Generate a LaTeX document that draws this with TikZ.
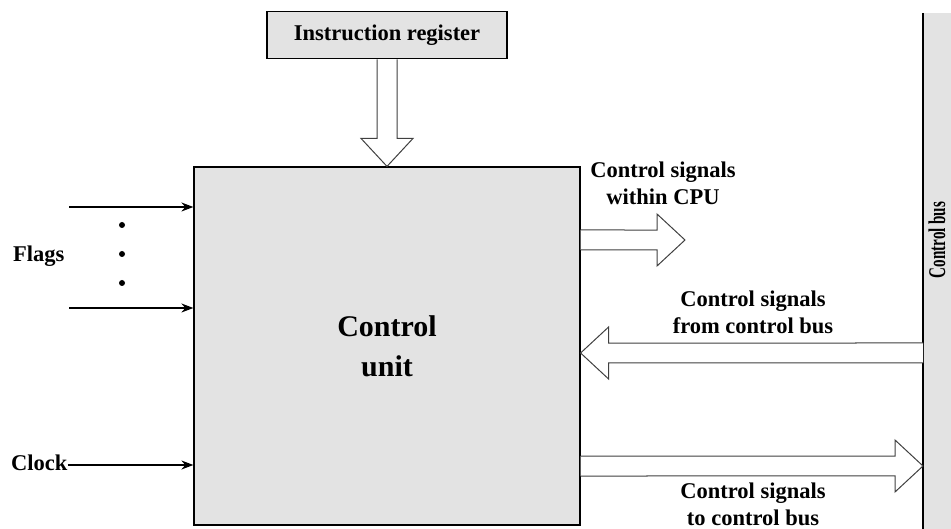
\documentclass[tikz,border=0pt]{standalone}
\usepackage{fontspec}
\setmainfont{Liberation Serif}
\usetikzlibrary{positioning,calc,arrows.meta}

\begin{document}
\begin{tikzpicture}[x=1pt, y=-1pt, font=\bfseries,
	box/.style={draw, line width=1.2pt, fill=black!11},
	lbl/.style={font=\bfseries\fontsize{22.5}{27}\selectfont, align=center, inner sep=0pt},
	flag/.style={line width=1.6pt, -{Stealth[length=12pt, width=9pt]}},
	hollow/.style={draw=black!75, line width=1pt, fill=white, to path={
		($(\tikztostart)!10pt!90:(\tikztotarget)$)
		-- ($(\tikztotarget)!29.73pt!-19.65:(\tikztostart)$)
		-- ($(\tikztotarget)!38.21pt!-42.88:(\tikztostart)$)
		-- (\tikztotarget)
		-- ($(\tikztotarget)!38.21pt!42.88:(\tikztostart)$)
		-- ($(\tikztotarget)!29.73pt!19.65:(\tikztostart)$)
		-- ($(\tikztostart)!10pt!-90:(\tikztotarget)$)}}]
		\useasboundingbox (0,0) rectangle (951,529);

		\node[box, minimum width=386pt, minimum height=358pt, align=center, font=\bfseries\fontsize{30}{40}\selectfont] (cu) at (387,346) {Control\\unit};
		\node[box, minimum width=240pt, minimum height=47pt, above=107pt of cu, lbl, inner sep=0pt] (ir) {Instruction register};
		\node[fill=black!11, minimum width=30pt, minimum height=516pt, anchor=north west, inner sep=0pt] (bus) at (923,13) {};
		\draw[line width=1.2pt] (bus.north west) -- (bus.south west);
		\node[rotate=90, font=\bfseries\fontsize{24}{28}\selectfont, inner sep=0pt] (busl) at (937,240) {\scalebox{0.63}[1]{Control bus}};

		% flags and clock
		\node[lbl, anchor=west] (flags) at (13,256) {Flags};
		\coordinate (f1) at (69,207);
		\coordinate (f2) at (69,308);
		\draw[flag] (f1) -- (cu.west |- f1);
		\draw[flag] (f2) -- (cu.west |- f2);
		\foreach \y in {225,254,283}
			\fill (122,\y) circle (3pt);
		\node[lbl, anchor=west] (clk) at (11,463) {Clock};
		\draw[flag] (clk.east |- 0,465) -- (cu.west |- 0,465);

		% wide arrows
		\draw[hollow] (ir.south) to (cu.north);
		\coordinate (cpu) at (685,240);
		\draw[hollow] (cu.east |- cpu) to (cpu);
		\draw[hollow] (bus.west |- 0,353) to (cu.east |- 0,353);
		\draw[hollow] (cu.east |- 0,466) to (bus.west |- 0,466);

		\node[lbl] (cpul) at (663,183) {Control signals\\within CPU};
		\node[lbl] (froml) at (753,312) {Control signals\\from control bus};
		\node[lbl] (tol) at (753,504) {Control signals\\to control bus};
	\end{tikzpicture}
\end{document}
